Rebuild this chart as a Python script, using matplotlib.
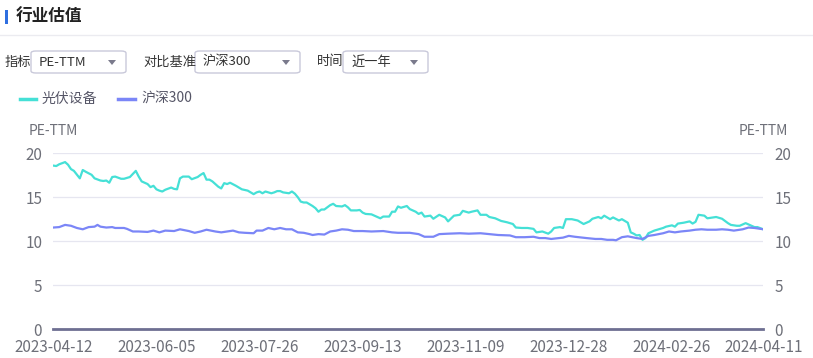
import matplotlib
matplotlib.use("Agg")
import matplotlib.pyplot as plt
from matplotlib.patches import FancyBboxPatch, Rectangle, Polygon
from matplotlib.lines import Line2D

plt.rcParams['font.family'] = ['Noto Sans CJK SC', 'DejaVu Sans']

# 光伏设备 PE-TTM (trading-day index, value)
pv_idx = [0, 1, 2, 4, 5, 6, 7, 9, 10, 11, 13, 14, 16, 17, 18, 19, 20, 21, 23, 24,
          26, 28, 29, 30, 32, 33, 34, 35, 36, 37, 38, 40, 41, 42, 43, 44, 46, 47, 49, 50,
          51, 52, 53, 54, 55, 56, 57, 58, 59, 60, 62, 63, 64, 66, 67, 68, 69, 70, 71, 72,
          74, 75, 76, 77, 78, 80, 81, 82, 83, 84, 85, 86, 88, 89, 90, 91, 92, 94, 95, 96,
          98, 99, 100, 101, 103, 104, 105, 106, 108, 109, 111, 112, 113, 114, 115, 116, 117, 118, 120, 121,
          123, 124, 125, 126, 128, 129, 131, 133, 134, 136, 138, 139, 141, 142, 144, 145, 147, 148, 150, 152,
          154, 156, 157, 159, 161, 163, 164, 166, 168, 169, 170, 172, 173, 174, 176, 178, 180, 182, 183, 185,
          186, 187, 189, 190, 192, 193, 195, 196, 197, 198, 199, 200, 201, 202, 204, 205, 207, 208, 210, 211,
          212, 214, 216, 217, 218, 219, 221, 222, 224, 225, 227, 229, 230, 232, 233, 235, 237, 238, 239, 241]
pv_pe = [18.6, 18.55, 18.75, 19.0, 18.7, 18.2, 18.0, 17.15, 18.1, 17.9, 17.55, 17.15, 16.9, 16.85, 16.9, 16.65, 17.3, 17.35, 17.1, 17.1,
         17.3, 18.0, 17.35, 16.8, 16.5, 16.15, 16.3, 15.9, 15.75, 15.65, 15.85, 16.1, 15.95, 15.9, 17.15, 17.35, 17.35, 17.05, 17.3, 17.55,
         17.75, 17.0, 17.0, 16.8, 16.5, 16.2, 16.0, 16.6, 16.5, 16.65, 16.3, 16.1, 15.9, 15.75, 15.55, 15.35, 15.55, 15.65, 15.45, 15.65,
         15.45, 15.55, 15.7, 15.7, 15.55, 15.45, 15.65, 15.4, 15.0, 14.5, 14.4, 14.4, 14.0, 13.75, 13.35, 13.6, 13.6, 14.1, 14.25, 14.0,
         13.95, 14.1, 13.85, 13.5, 13.5, 13.55, 13.25, 13.1, 13.05, 12.9, 12.6, 12.8, 12.8, 12.8, 13.35, 13.35, 13.95, 13.8, 14.0, 13.65,
         13.35, 13.1, 13.25, 12.8, 12.9, 12.55, 13.0, 12.7, 12.25, 12.9, 13.0, 13.45, 13.25, 13.35, 13.5, 13.0, 13.0, 12.75, 12.6, 12.3,
         12.15, 11.95, 11.55, 11.5, 11.5, 11.4, 11.0, 11.1, 10.85, 11.1, 11.5, 11.6, 11.5, 12.5, 12.5, 12.35, 11.95, 12.25, 12.55, 12.75,
         12.6, 12.9, 12.5, 12.7, 12.35, 12.5, 12.1, 11.0, 10.85, 10.65, 10.7, 10.15, 10.35, 10.9, 11.2, 11.3, 11.5, 11.65, 11.8, 11.65,
         12.0, 12.1, 12.25, 12.0, 12.2, 13.0, 12.9, 12.6, 12.7, 12.75, 12.55, 12.05, 11.85, 11.75, 11.75, 12.05, 11.75, 11.6, 11.6, 11.35]

# 沪深300 PE-TTM
hs_idx = [0, 2, 4, 6, 8, 10, 12, 14, 15, 16, 18, 20, 21, 24, 25, 27, 29, 32, 34, 36,
          38, 41, 43, 46, 48, 50, 52, 55, 57, 59, 61, 63, 65, 68, 69, 71, 73, 75, 77, 79,
          81, 83, 85, 87, 88, 90, 92, 94, 96, 98, 100, 102, 105, 108, 112, 115, 117, 121, 124, 126,
          129, 131, 134, 138, 141, 145, 148, 151, 155, 157, 160, 163, 165, 167, 169, 173, 175, 177, 181, 184,
          186, 188, 190, 191, 193, 195, 198, 200, 202, 204, 207, 209, 211, 213, 216, 218, 220, 222, 225, 227,
          229, 231, 234, 236, 238, 241]
hs_pe = [11.55, 11.6, 11.85, 11.75, 11.5, 11.35, 11.6, 11.65, 11.85, 11.65, 11.55, 11.6, 11.5, 11.5, 11.4, 11.1, 11.1, 11.05, 11.2, 11.0,
         11.2, 11.15, 11.35, 11.15, 10.95, 11.1, 11.3, 11.1, 11.0, 11.1, 11.2, 11.0, 10.95, 10.9, 11.2, 11.2, 11.5, 11.35, 11.5, 11.35,
         11.35, 11.0, 10.95, 10.8, 10.7, 10.8, 10.75, 11.1, 11.2, 11.35, 11.3, 11.15, 11.15, 11.1, 11.15, 11.0, 10.95, 10.95, 10.8, 10.5,
         10.5, 10.8, 10.85, 10.9, 10.85, 10.9, 10.8, 10.7, 10.65, 10.45, 10.45, 10.5, 10.35, 10.35, 10.25, 10.4, 10.6, 10.5, 10.35, 10.25,
         10.25, 10.15, 10.15, 10.1, 10.45, 10.55, 10.35, 10.25, 10.6, 10.7, 10.9, 11.1, 11.0, 11.1, 11.2, 11.3, 11.35, 11.3, 11.3, 11.35,
         11.3, 11.2, 11.35, 11.55, 11.5, 11.35]

tick_idx = [0, 35, 70, 105, 140, 175, 210, 241]
tick_labels = ['2023-04-12', '2023-06-05', '2023-07-26', '2023-09-13',
               '2023-11-09', '2023-12-28', '2024-02-26', '2024-04-11']
y_ticks = [0, 5, 10, 15, 20]

W, H = 813, 358
C_PV = '#45e0d6'
C_HS = '#7b86f7'
C_TXT = '#6e7079'


def fx(px):
    return px / W


def fy(py):
    return 1 - py / H


fig = plt.figure(figsize=(W / 100, H / 100), dpi=100)
fig.patch.set_facecolor('white')

# ---titre---
fig.patches.append(Rectangle((fx(5), fy(24)), 2.5 / W, 14 / H, transform=fig.transFigure,
                             color='#2f6fe0', lw=0))
fig.text(fx(16), fy(17), '行业估值', fontsize=12, fontweight='bold', color='#222222', va='center')
fig.add_artist(Line2D([0, 1], [fy(34.5), fy(34.5)], color='#ebebf0', lw=1, transform=fig.transFigure))

# ---sélecteurs---
controls = [('指标', 5, 31, 126, 'PE-TTM'),
            ('对比基准', 143, 195, 300, '沪深300'),
            ('时间', 317, 343, 428, '近一年')]
for lab, lx, x0, x1, val in controls:
    fig.text(fx(lx), fy(62), lab, fontsize=9.5, color='#333333', va='center')
    box = FancyBboxPatch((fx(x0), fy(73)), (x1 - x0) / W, 22 / H,
                         boxstyle='round,pad=0,rounding_size=0.006',
                         transform=fig.transFigure, fc='white', ec='#c9c9da', lw=1)
    fig.patches.append(box)
    fig.text(fx(x0 + 8), fy(62), val, fontsize=9.5, color='#333333', va='center')
    tx = x1 - 14
    fig.patches.append(Polygon([(fx(tx - 4), fy(60)), (fx(tx + 4), fy(60)), (fx(tx), fy(65))],
                               closed=True, transform=fig.transFigure, fc='#7a7a8c', lw=0))

# ---légende---
fig.add_artist(Line2D([fx(20), fx(36)], [fy(99), fy(99)], color=C_PV, lw=2.5, transform=fig.transFigure))
fig.text(fx(42), fy(99), '光伏设备', fontsize=10, color='#555566', va='center')
fig.add_artist(Line2D([fx(118), fx(135)], [fy(99), fy(99)], color=C_HS, lw=2.5, transform=fig.transFigure))
fig.text(fx(141), fy(99), '沪深300', fontsize=10, color='#555566', va='center')

# ---graphique---
ax = fig.add_axes([fx(53.3), fy(329), (763.3 - 53.3) / W, (329 - 153.3) / H])
ax.plot(pv_idx, pv_pe, color=C_PV, lw=1.6, zorder=3)
ax.plot(hs_idx, hs_pe, color=C_HS, lw=1.6, zorder=3)
ax.set_xlim(0, 241)
ax.set_ylim(0, 20)
ax.set_yticks(y_ticks)
ax.set_xticks(tick_idx)
ax.set_xticklabels(tick_labels)
for y in y_ticks[1:]:
    ax.axhline(y, color='#e6e6f0', lw=0.9, zorder=1)
for s in ['top', 'right', 'left']:
    ax.spines[s].set_visible(False)
ax.spines['bottom'].set_color('#6e6f92')
ax.spines['bottom'].set_linewidth(2)
ax.tick_params(axis='both', length=0, labelsize=11, colors=C_TXT)
ax.tick_params(axis='y', pad=8)
ax.tick_params(axis='x', pad=7)

ax2 = ax.twinx()
ax2.set_ylim(0, 20)
ax2.set_yticks(y_ticks)
for s in ['top', 'right', 'left', 'bottom']:
    ax2.spines[s].set_visible(False)
ax2.tick_params(axis='y', length=0, labelsize=11, colors=C_TXT, pad=8)

fig.text(fx(53.3), fy(131), 'PE-TTM', fontsize=10, color=C_TXT, ha='center', va='center')
fig.text(fx(763), fy(131), 'PE-TTM', fontsize=10, color=C_TXT, ha='center', va='center')

fig.savefig('out.png', dpi=100)
